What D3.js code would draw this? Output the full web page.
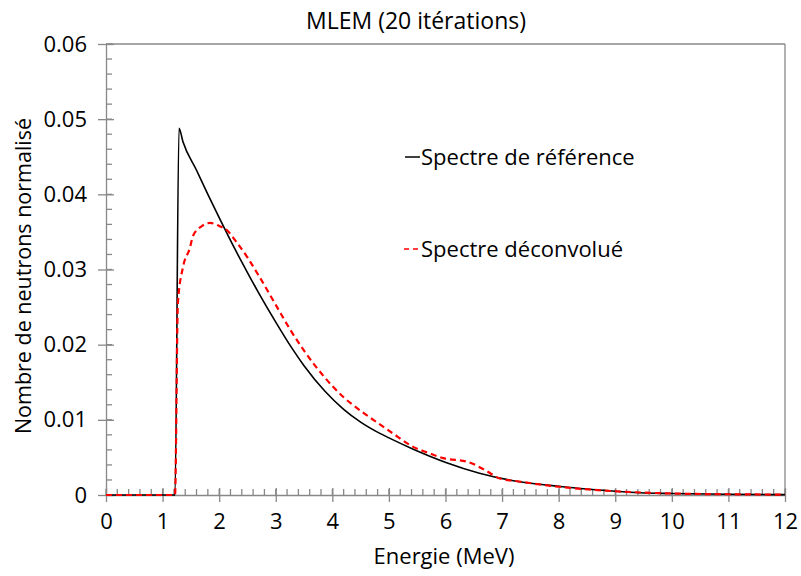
<!DOCTYPE html>
<html><head><meta charset="utf-8">
<script src="https://cdn.jsdelivr.net/npm/d3@7"></script>
<style>body{margin:0;background:#fff}text{font-family:"Open Sans",sans-serif;fill:#000}</style>
</head><body><svg id="c" width="801" height="576"></svg>
<script>
const refE = [0,0.5,1.0,1.2,1.22,1.29,1.36,1.6,1.8,2.0,2.28,2.5,2.69,3.0,3.28,3.5,3.87,4.2,4.5,4.84,5.0,5.43,6.02,6.6,7.2,8.07,8.5,9.0,9.44,10,11,12];
const refY = [0,0,0,0,0,0.0488,0.0470,0.0432,0.0400,0.0369,0.0327,0.0296,0.0270,0.0230,0.0196,0.0172,0.0138,0.0114,0.0097,0.0082,0.0076,0.0061,0.0043,0.0029,0.0019,0.0011,0.0008,0.0005,0.0003,0.0002,0.0001,0.00005];
const decE = [0,0.5,1.0,1.2,1.22,1.27,1.36,1.48,1.54,1.7,1.84,2.0,2.14,2.31,2.5,2.69,3.0,3.28,3.5,3.87,4.2,4.5,4.84,5.07,5.43,5.7,5.96,6.4,6.7,6.96,7.3,8.0,9.0,10,11,12];
const decY = [0,0,0,0,0,0.0255,0.0303,0.0328,0.0345,0.0358,0.0362,0.0358,0.0352,0.0336,0.0316,0.0293,0.0253,0.0217,0.0192,0.0156,0.0130,0.0112,0.0094,0.0082,0.0064,0.0056,0.0049,0.0044,0.0033,0.0022,0.0018,0.0011,0.0005,0.0002,0.0001,0.00005];
const xTicks = [0,1,2,3,4,5,6,7,8,9,10,11,12];
const yTicks = [0,0.01,0.02,0.03,0.04,0.05,0.06];
const yTickLabels = ["0","0.01","0.02","0.03","0.04","0.05","0.06"];
const title = "MLEM (20 itérations)";
const xTitle = "Energie (MeV)";
const yTitle = "Nombre de neutrons normalisé";
const legendLabels = ["Spectre de référence","Spectre déconvolué"];

const svg = d3.select("#c");
const L=106,R=785,T=44,B=495;
const x = d3.scaleLinear().domain([0,12]).range([L,R]);
const y = d3.scaleLinear().domain([0,0.06]).range([B,T]);
const axisCol = "#888";

// borders
svg.append("line").attr("x1",L).attr("x2",R).attr("y1",T).attr("y2",T).attr("stroke",axisCol).attr("stroke-width",1.3);
svg.append("line").attr("x1",R).attr("x2",R).attr("y1",T).attr("y2",B).attr("stroke",axisCol).attr("stroke-width",1.3);

// y axis
const yMinor = d3.range(0,0.0601,0.002);
svg.append("g").selectAll("line").data(yMinor).join("line")
  .attr("x1",L).attr("x2",L+6).attr("y1",d=>y(d)).attr("y2",d=>y(d)).attr("stroke",axisCol).attr("stroke-width",1.3);
const gy = svg.append("g").attr("transform",`translate(${L},0)`)
  .call(d3.axisLeft(y).tickValues(yTicks).tickSizeInner(8).tickSizeOuter(0).tickPadding(11).tickFormat((d,i)=>yTickLabels[i]));
gy.selectAll(".tick line").clone().attr("x2",8);
gy.selectAll("line,path").attr("stroke",axisCol).attr("stroke-width",1.3);
gy.selectAll("text").attr("font-size",22).attr("fill","#000").attr("font-family","Open Sans");

// x axis
const xMinor = d3.range(0,12.001,0.2);
svg.append("g").selectAll("line").data(xMinor).join("line")
  .attr("x1",d=>x(d)).attr("x2",d=>x(d)).attr("y1",B).attr("y2",B-6).attr("stroke",axisCol).attr("stroke-width",1.3);
const gx = svg.append("g").attr("transform",`translate(0,${B})`)
  .call(d3.axisBottom(x).tickValues(xTicks).tickSizeInner(7).tickSizeOuter(0).tickPadding(11).tickFormat(d3.format("d")));
gx.selectAll(".tick line").clone().attr("y2",-7);
gx.selectAll("line,path").attr("stroke",axisCol).attr("stroke-width",1.3);
gx.selectAll("text").attr("font-size",22).attr("fill","#000").attr("font-family","Open Sans");

// lines
const line = d3.line().x(d=>x(d[0])).y(d=>y(d[1])).curve(d3.curveMonotoneX);
svg.append("path").datum(refE.map((e,i)=>[e,refY[i]])).attr("d",line)
  .attr("fill","none").attr("stroke","#000").attr("stroke-width",1.6);
svg.append("path").datum(decE.map((e,i)=>[e,decY[i]])).attr("d",line)
  .attr("fill","none").attr("stroke","#ff0000").attr("stroke-width",2.2).attr("stroke-dasharray","6,4");

// titles
svg.append("text").attr("x",416).attr("y",29).attr("text-anchor","middle").attr("font-size",23).text(title);
svg.append("text").attr("x",444).attr("y",564).attr("text-anchor","middle").attr("font-size",22).text(xTitle);
svg.append("text").attr("transform","translate(31,276) rotate(-90)").attr("text-anchor","middle").attr("font-size",21.5).text(yTitle);

// legend
svg.append("line").attr("x1",405).attr("x2",420).attr("y1",157).attr("y2",157).attr("stroke","#000").attr("stroke-width",1.5);
svg.append("text").attr("x",421).attr("y",165).attr("font-size",22).text(legendLabels[0]);
svg.append("line").attr("x1",404).attr("x2",420).attr("y1",249).attr("y2",249).attr("stroke","#ff0000").attr("stroke-width",1.5).attr("stroke-dasharray","5,4");
svg.append("text").attr("x",421).attr("y",257).attr("font-size",22).text(legendLabels[1]);
</script></body></html>
